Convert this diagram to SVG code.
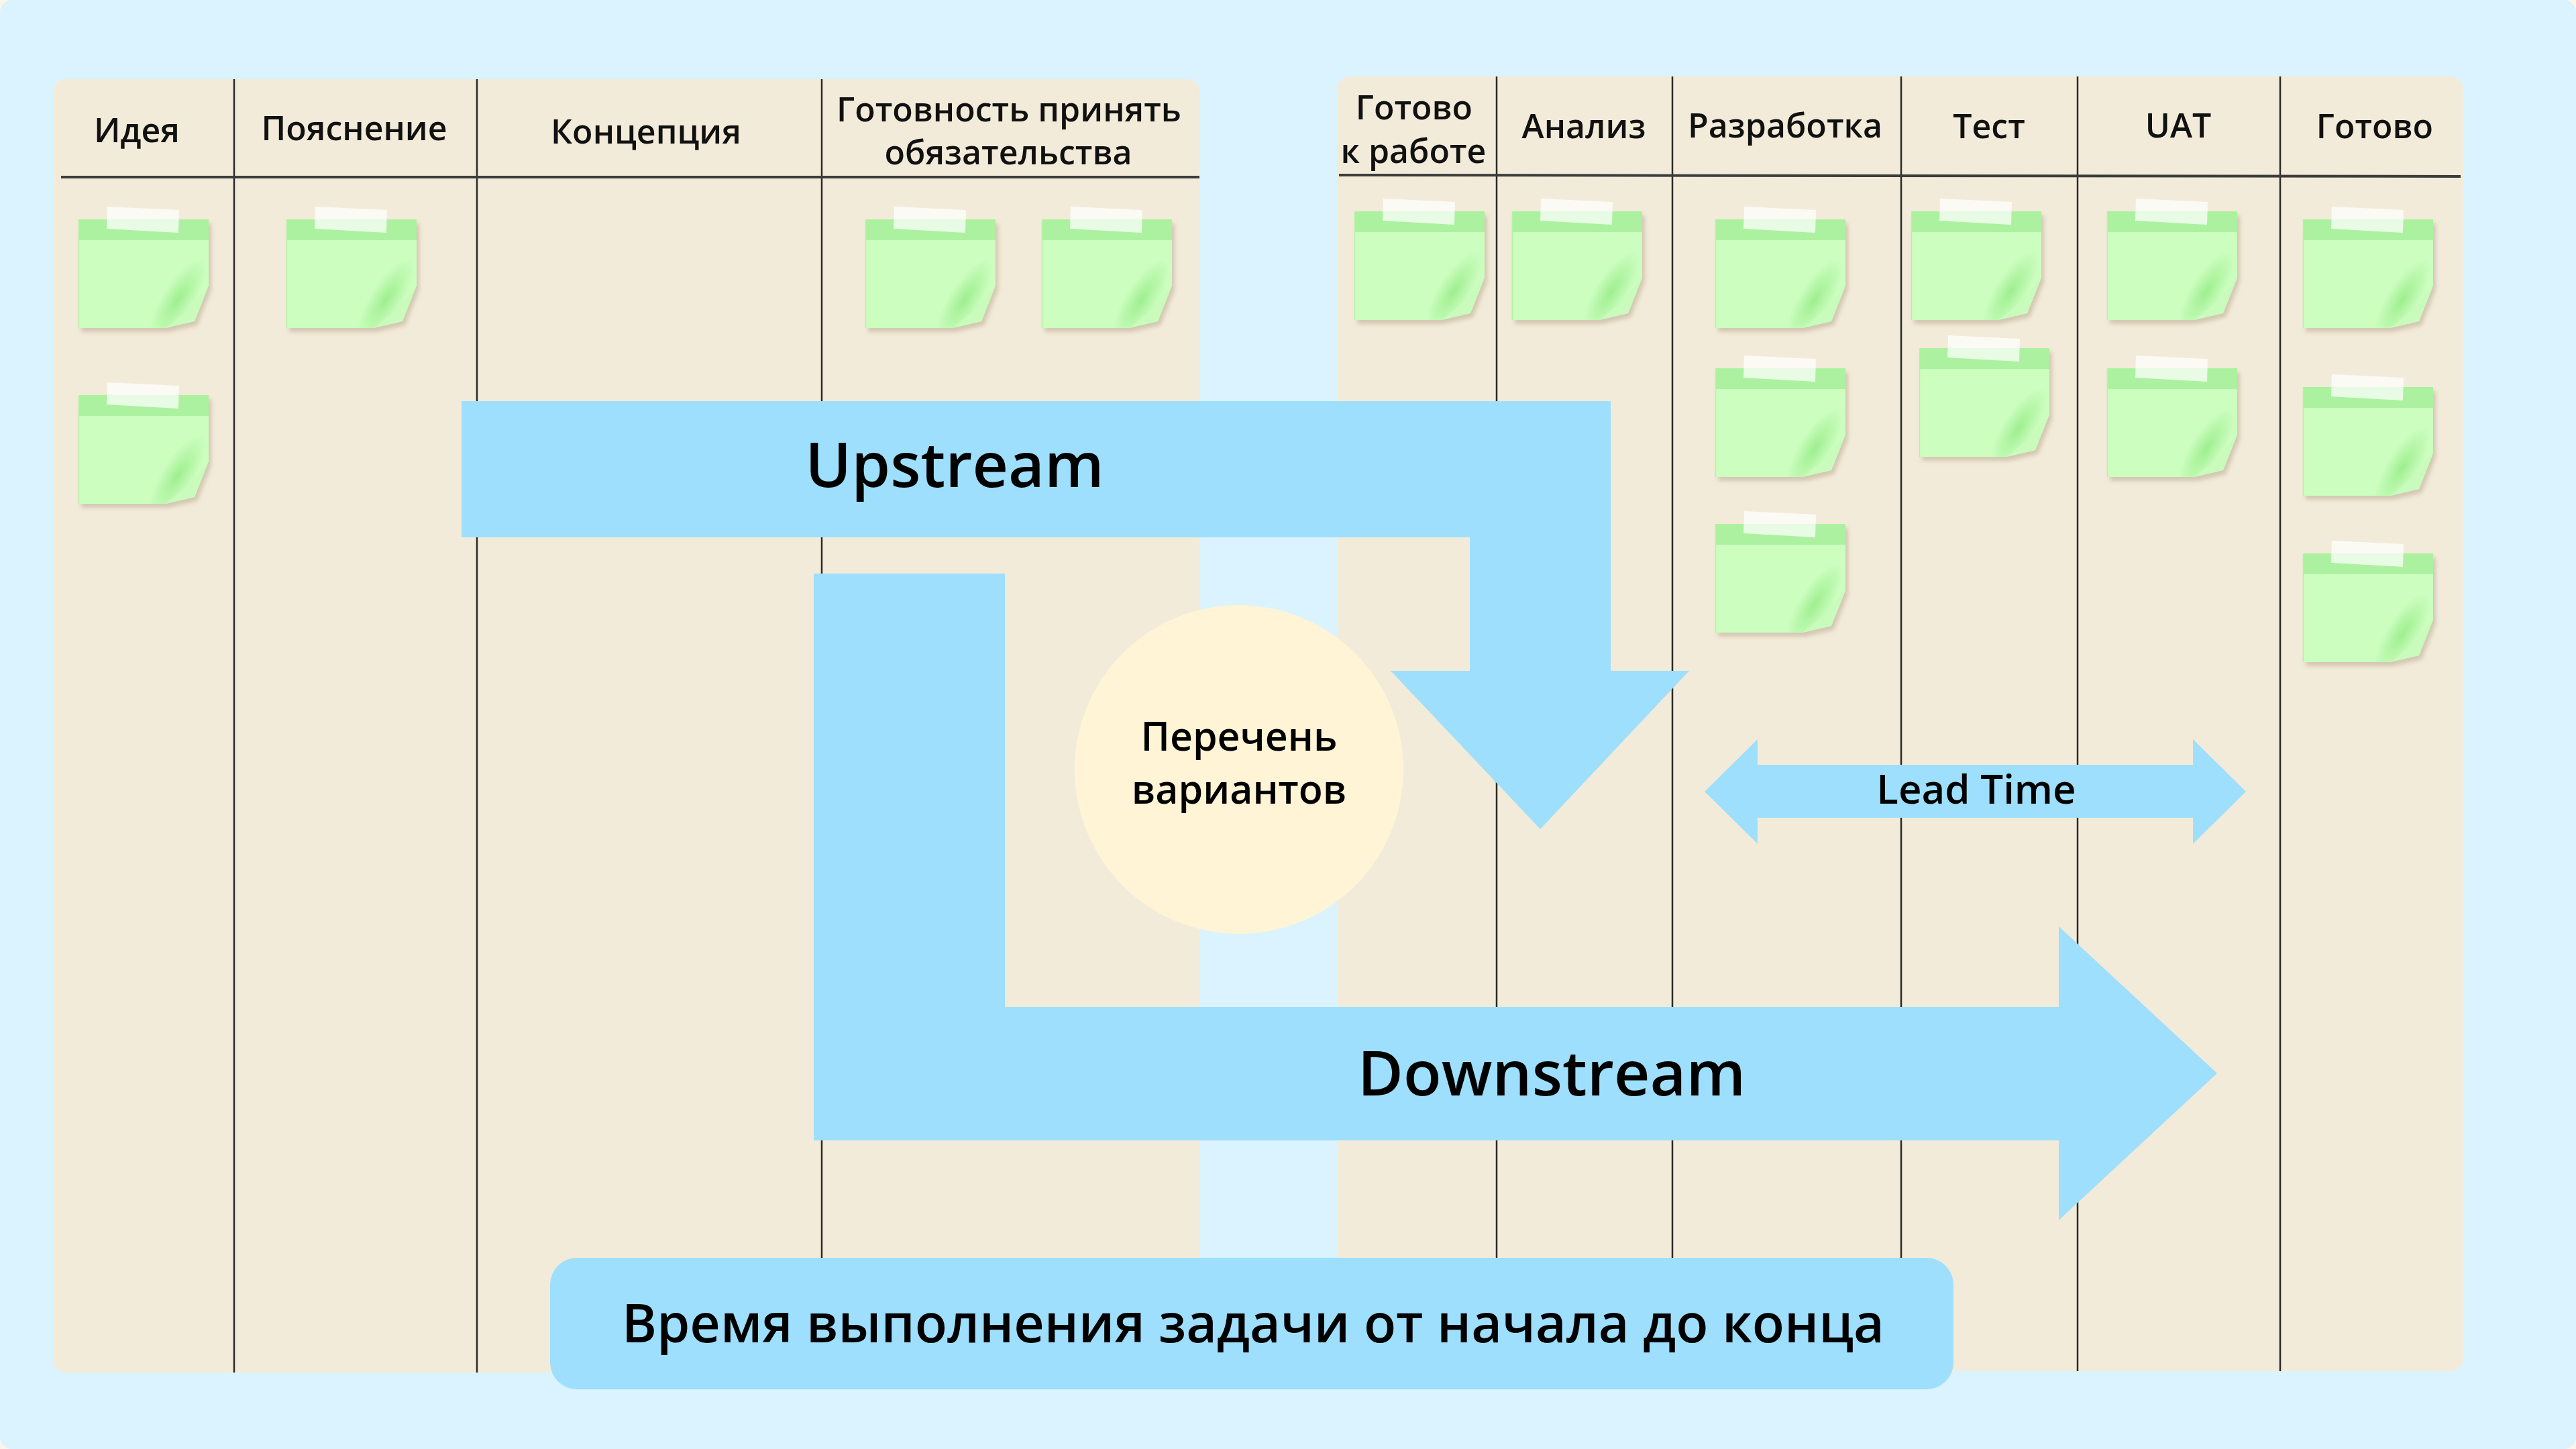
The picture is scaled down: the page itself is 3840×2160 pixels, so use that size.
<svg xmlns="http://www.w3.org/2000/svg" width="3840" height="2160" viewBox="0 0 3840 2160">
<defs>
<style>
.hdr{font-family:"Open Sans","Noto Sans",sans-serif;font-weight:600;font-size:50px;fill:#111;text-anchor:middle}
.big{font-family:"Open Sans","Noto Sans",sans-serif;font-weight:600;fill:#000;text-anchor:middle}
.board{fill:#F3EBD9}
.vline{stroke:#2a2a2a;stroke-width:2.5;fill:none}
.hline{stroke:#3c3c3c;stroke-width:4;fill:none}
.arrow{fill:#9EDFFD}
</style>
<filter id="shadow" x="-20%" y="-20%" width="140%" height="140%">
<feGaussianBlur stdDeviation="3"/>
</filter>
<radialGradient id="curl" cx="0.5" cy="0.5" r="0.5">
<stop offset="0" stop-color="#97EC87" stop-opacity="0.85"/>
<stop offset="1" stop-color="#97EC87" stop-opacity="0"/>
</radialGradient>
<clipPath id="noteClip">
<polygon points="0,0 194,0 194,99 173,152 130,162 0,162"/>
</clipPath>
<g id="note">
<polygon points="4,6 198,6 198,105 177,158 134,168 4,168" fill="#B8AA92" opacity="0.55" filter="url(#shadow)"/>
<polygon points="0,0 194,0 194,99 173,152 130,162 0,162" fill="#CCFEC0"/>
<rect x="0" y="0" width="194" height="31" fill="#ACF19F"/>
<g clip-path="url(#noteClip)">
<ellipse cx="148" cy="120" rx="70" ry="24" transform="rotate(-58 148 120)" fill="url(#curl)"/>
</g>
<polygon points="194,99 173,152 130,162 160,138" fill="#C9FBBC"/>
<line x1="0.5" y1="0" x2="0.5" y2="162" stroke="#B5F2A6" stroke-width="1.5"/>
<polygon points="43,-19 150,-14 149,20 42,14" fill="#FFFFFF" opacity="0.72"/>
</g>
</defs>

<rect x="0" y="0" width="3840" height="2160" fill="#FBF6EC"/>
<rect x="0" y="0" width="3840" height="2160" rx="18" fill="#DAF3FE"/>

<g id="board-left">
<rect class="board" x="80" y="118" width="1708" height="1928" rx="18"/>
<line class="vline" x1="349" y1="118" x2="349" y2="2046"/>
<line class="vline" x1="711" y1="118" x2="711" y2="2046"/>
<line class="vline" x1="1225" y1="118" x2="1225" y2="2046"/>
<line class="hline" x1="91" y1="264" x2="1788" y2="264"/>
<text class="hdr" x="204" y="212">Идея</text>
<text class="hdr" x="528" y="209">Пояснение</text>
<text class="hdr" x="963" y="214">Концепция</text>
<text class="hdr" x="1504" y="181">Готовность принять</text>
<text class="hdr" x="1503" y="245">обязательства</text>
</g>

<g id="board-right">
<rect class="board" x="1993" y="114" width="1679" height="1930" rx="20"/>
<line class="vline" x1="2231" y1="114" x2="2231" y2="2044"/>
<line class="vline" x1="2493" y1="114" x2="2493" y2="2044"/>
<line class="vline" x1="2834" y1="114" x2="2834" y2="2044"/>
<line class="vline" x1="3097" y1="114" x2="3097" y2="2044"/>
<line class="vline" x1="3399" y1="114" x2="3399" y2="2044"/>
<line class="hline" x1="1996" y1="261" x2="3668" y2="263"/>
<text class="hdr" x="2108" y="178">Готово</text>
<text class="hdr" x="2107" y="243">к работе</text>
<text class="hdr" x="2361" y="206">Анализ</text>
<text class="hdr" x="2661" y="205">Разработка</text>
<text class="hdr" x="2965" y="206">Тест</text>
<text class="hdr" x="3247" y="205">UAT</text>
<text class="hdr" x="3540" y="206">Готово</text>
</g>

<g id="notes">
<use href="#note" x="117" y="327"/>
<use href="#note" x="117" y="589"/>
<use href="#note" x="427" y="327"/>
<use href="#note" x="1290" y="327"/>
<use href="#note" x="1553" y="327"/>
<use href="#note" x="2019" y="315"/>
<use href="#note" x="2254" y="315"/>
<use href="#note" x="2557" y="327"/>
<use href="#note" x="2557" y="549"/>
<use href="#note" x="2557" y="781"/>
<use href="#note" x="2849" y="315"/>
<use href="#note" x="2861" y="519"/>
<use href="#note" x="3141" y="315"/>
<use href="#note" x="3141" y="549"/>
<use href="#note" x="3433" y="327"/>
<use href="#note" x="3433" y="577"/>
<use href="#note" x="3433" y="825"/>
</g>

<g id="options-list">
<circle cx="1847" cy="1147" r="245" fill="#FFF4D6"/>
<text class="big" x="1847" y="1119" font-size="59">Перечень</text>
<text class="big" x="1847" y="1198" font-size="59">вариантов</text>
</g>

<g id="connectors">
<g id="upstream">
<polygon class="arrow" points="688,598 2401,598 2401,1000 2518,1000 2296,1236 2073,1000 2191,1000 2191,801 688,801"/>
<text class="big" x="1423" y="726" font-size="93">Upstream</text>
</g>
<g id="downstream">
<polygon class="arrow" points="1213,855 1498,855 1498,1501 3069,1501 3069,1381 3305,1600 3069,1819 3069,1700 1213,1700"/>
<text class="big" x="2313" y="1633" font-size="93">Downstream</text>
</g>
<g id="lead-time">
<polygon class="arrow" points="2541,1180 2620,1102 2620,1140 3269,1140 3269,1102 3348,1180 3269,1258 3269,1219 2620,1219 2620,1258"/>
<text class="big" x="2946" y="1198" font-size="60">Lead Time</text>
</g>
</g>

<g id="total-time">
<rect x="820" y="1875" width="2092" height="196" rx="40" fill="#9EDFFD"/>
<text class="big" x="1868" y="2001" font-size="79">Время выполнения задачи от начала до конца</text>
</g>
</svg>
